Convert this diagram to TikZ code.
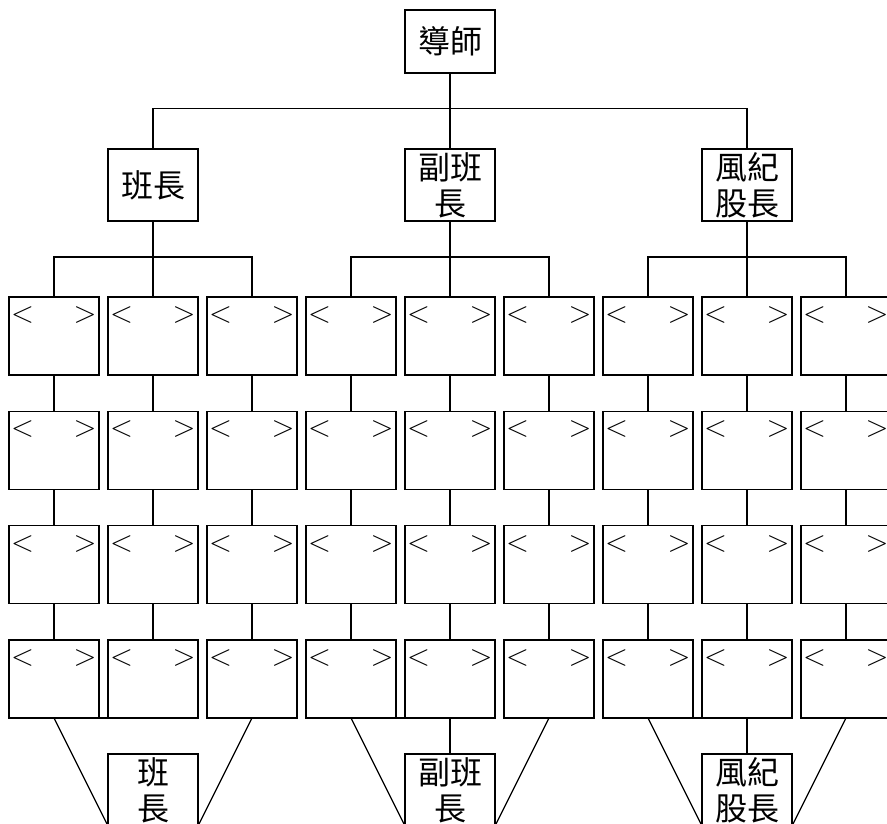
\documentclass[tikz,border=0pt]{standalone}
\usepackage{fontspec}
\newfontfamily\cjk{Noto Sans CJK TC}
\begin{document}
\begin{tikzpicture}[x=1pt,y=-1pt,
  every node/.style={inner sep=0pt, outer sep=0pt},
  cellbox/.style={draw, line width=1.6pt, minimum width=90pt, minimum height=78pt},
  rolebox/.style={draw, line width=1.6pt, minimum width=90pt, minimum height=72pt,
    align=center, font=\cjk\fontsize{32}{36}\selectfont},
  conn/.style={line width=1.6pt},
  diag/.style={line width=1.3pt},
  angtext/.style={font=\fontsize{30}{30}\selectfont, text=black}]
\useasboundingbox (0,0) rectangle (887,824);
\clip (0,0) rectangle (887,824);

% top and leaders
\node[rolebox, minimum height=63pt] (tutor) at (450,41.5) {導師};
\node[rolebox] (lead0) at (153,185) {班長};
\node[rolebox] (lead1) at (450,185) {副班\\長};
\node[rolebox] (lead2) at (747,185) {風紀\\股長};

\coordinate (j0) at (450,108.5);
\draw[conn] (tutor.south) -- (j0);
\draw[conn] (lead0.north) |- (j0) -| (lead2.north);
\draw[conn] (j0) -- (lead1.north);

% grid of boxes
\foreach \r in {0,...,3} {
  \foreach \c in {0,...,8} {
    \pgfmathsetmacro\xx{54+99*\c}
    \pgfmathsetmacro\yy{336+114.33*\r}
    \node[cellbox] (b-\r-\c) at (\xx,\yy) {};
    \node[angtext, anchor=west] (lt-\r-\c) at (\xx-43,\yy-21) {<};
    \node[angtext, anchor=east] (gt-\r-\c) at (\xx+42.5,\yy-21) {>};
  }
}

% leader to first row
\foreach \g in {0,1,2} {
  \pgfmathtruncatemacro\ca{3*\g}
  \pgfmathtruncatemacro\cb{3*\g+1}
  \pgfmathtruncatemacro\cc{3*\g+2}
  \pgfmathsetmacro\gx{153+297*\g}
  \coordinate (jg\g) at (\gx,256.7);
  \draw[conn] (lead\g.south) -- (jg\g);
  \draw[conn] (b-0-\ca.north) |- (jg\g) -| (b-0-\cc.north);
  \draw[conn] (jg\g) -- (b-0-\cb.north);
}

% row to row
\foreach \r/\rn in {0/1,1/2,2/3} {
  \foreach \c in {0,...,8} {
    \draw[conn] (b-\r-\c.south) -- (b-\rn-\c.north);
  }
}

% bottom boxes
\node[rolebox] (end0) at (153,790) {班\\長};
\node[rolebox] (end1) at (450,790) {副班\\長};
\node[rolebox] (end2) at (747,790) {風紀\\股長};

\foreach \g in {0,1,2} {
  \pgfmathtruncatemacro\ca{3*\g}
  \pgfmathtruncatemacro\cb{3*\g+1}
  \pgfmathtruncatemacro\cc{3*\g+2}
  \draw[conn] (b-3-\ca.south east) -- (b-3-\cb.south west);
  \draw[diag] (b-3-\ca.south) -- (end\g.south west);
  \draw[diag] (b-3-\cc.south) -- (end\g.south east);
}
\draw[conn] (b-3-4.south) -- (end1.north);
\draw[conn] (b-3-7.south) -- (end2.north);
\end{tikzpicture}
\end{document}
